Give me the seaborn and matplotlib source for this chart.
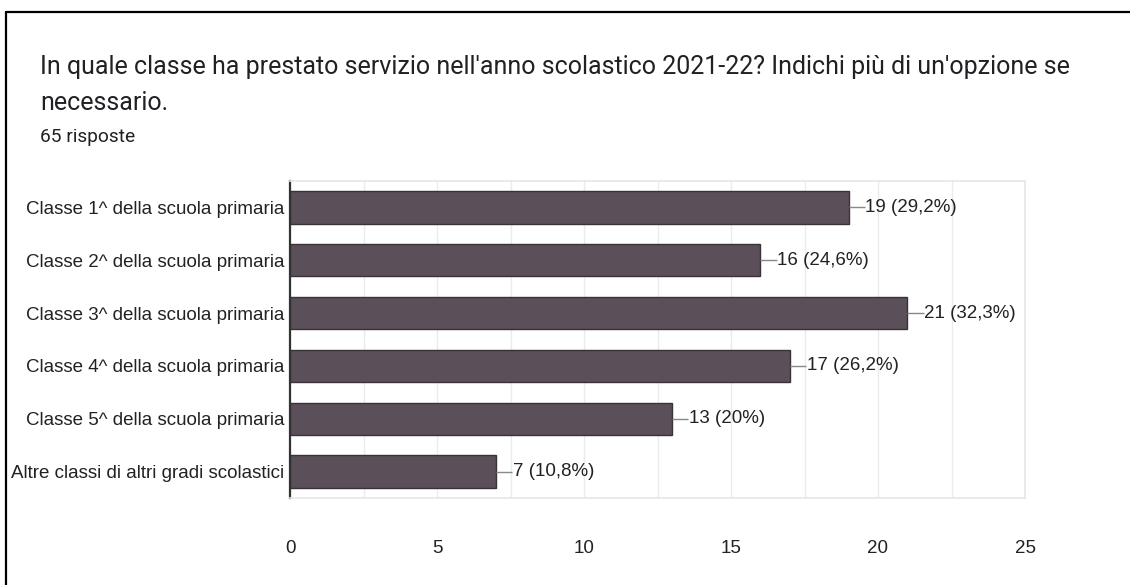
import matplotlib
matplotlib.use("Agg")
import matplotlib.pyplot as plt
import seaborn as sns
import pandas as pd
from matplotlib.lines import Line2D

categories = [
    "Classe 1^ della scuola primaria",
    "Classe 2^ della scuola primaria",
    "Classe 3^ della scuola primaria",
    "Classe 4^ della scuola primaria",
    "Classe 5^ della scuola primaria",
    "Altre classi di altri gradi scolastici",
]
values = [19, 16, 21, 17, 13, 7]
total_responses = 65
x_ticks = [0, 5, 10, 15, 20, 25]

title_lines = [
    "In quale classe ha prestato servizio nell'anno scolastico 2021-22? Indichi più di un'opzione se",
    "necessario.",
]
subtitle_text = f"{total_responses} risposte"

df = pd.DataFrame({"cat": categories, "val": values})

sns.set_theme(style="white")
plt.rcParams["font.family"] = ["Liberation Sans", "DejaVu Sans"]

fig = plt.figure(figsize=(11.3, 5.85), dpi=100)
ax = fig.add_axes([290 / 1130, 1 - 498 / 585, (1025 - 290) / 1130, (498 - 181) / 585])

sns.barplot(data=df, x="val", y="cat", orient="h", color="#5b4f59",
            saturation=1, width=0.61, edgecolor="#3a3238", linewidth=1.0, ax=ax)

ax.set_xlim(0, 25)
ax.set_ylim(5.5, -0.5)
ax.set_xticks(x_ticks)
ax.set_xticks([2.5, 7.5, 12.5, 17.5, 22.5], minor=True)
ax.grid(axis="x", which="both", color="#ebebeb", linewidth=1.0)
ax.set_axisbelow(True)
ax.set_xlabel("")
ax.set_ylabel("")
ax.tick_params(axis="both", which="both", length=0, labelsize=13.5, colors="#222222")
ax.tick_params(axis="x", pad=30)
ax.tick_params(axis="y", pad=4)
for s in ["top", "right", "bottom"]:
    ax.spines[s].set_color("#e6e6e6")
    ax.spines[s].set_linewidth(1.2)
ax.spines["left"].set_color("#333333")
ax.spines["left"].set_linewidth(1.6)

for i, v in enumerate(values):
    pct = round(v / total_responses * 100, 1)
    pct_s = (f"{pct:.1f}".rstrip("0").rstrip(".")).replace(".", ",")
    ax.plot([v, v + 0.55], [i, i], color="#888888", linewidth=1.0, solid_capstyle="butt")
    ax.text(v + 0.57, i, f"{v} ({pct_s}%)", va="center", ha="left",
            fontsize=13.5, color="#222222")

fig.text(40 / 1130, 1 - 67 / 585, title_lines[0], fontsize=18, color="#202124",
         family=["Roboto", "DejaVu Sans"], va="center", ha="left")
fig.text(40 / 1130, 1 - 103 / 585, title_lines[1], fontsize=18, color="#202124",
         family=["Roboto", "DejaVu Sans"], va="center", ha="left")
fig.text(40 / 1130, 1 - 137 / 585, subtitle_text, fontsize=13.8, color="#202124",
         family=["Roboto", "DejaVu Sans"], va="center", ha="left")

fig.add_artist(Line2D([6 / 1130, 6 / 1130], [0, 1 - 12 / 585], transform=fig.transFigure,
                      color="black", linewidth=1.6))
fig.add_artist(Line2D([6 / 1130, 1], [1 - 12 / 585, 1 - 12 / 585], transform=fig.transFigure,
                      color="black", linewidth=1.6))

fig.savefig("out.png", dpi=100)
